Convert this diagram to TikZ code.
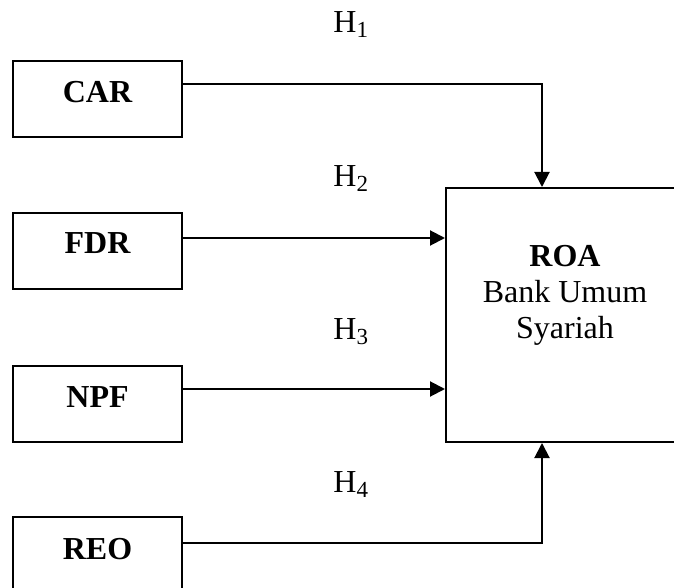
\documentclass[tikz,border=0pt]{standalone}
\usepackage{fontspec}
\setmainfont{Liberation Serif}
\usetikzlibrary{arrows.meta}
\newcommand{\hsub}[1]{\raisebox{-2.5pt}{\fontsize{11.5}{12}\selectfont #1}}
\begin{document}
\begin{tikzpicture}[x=0.5pt,y=-0.5pt,
  box/.style={draw,line width=1pt,minimum width=84.5pt,minimum height=38pt,inner sep=0pt},
  bigbox/.style={draw,line width=1pt,minimum width=116pt,minimum height=127pt,inner sep=0pt},
  lbl/.style={font=\fontsize{16}{18}\selectfont\bfseries,anchor=base,inner sep=0pt},
  txt/.style={font=\fontsize{16}{18}\selectfont,anchor=base,inner sep=0pt},
  hyp/.style={font=\fontsize{16}{18}\selectfont,anchor=base west,inner sep=0pt},
  conn/.style={line width=1pt,-{Triangle[length=7.5pt,width=7.5pt]}}]
\useasboundingbox (0,0) rectangle (674,588);
\clip (0,0) rectangle (674,588);
% boxes
\node[box] (car) at (97.5,99) {};
\node[box] (fdr) at (97.5,251) {};
\node[box] (npf) at (97.5,404) {};
\node[box] (reo) at (97.5,555) {};
\node[bigbox] (roa) at (562,315) {};
% box labels
\node[lbl] (carl) at (97.5,103) {CAR};
\node[lbl] (fdrl) at (97.5,254) {FDR};
\node[lbl] (npfl) at (97.5,407) {NPF};
\node[lbl] (reol) at (97.5,559) {REO};
\node[lbl] (roa1) at (565,266) {ROA};
\node[txt] (roa2) at (565,302) {Bank Umum};
\node[txt] (roa3) at (565,338) {Syariah};
% hypotheses
\node[hyp] (h1) at (333,33) {H\hsub{1}};
\node[hyp] (h2) at (333,187) {H\hsub{2}};
\node[hyp] (h3) at (333,339) {H\hsub{3}};
\node[hyp] (h4) at (333,492) {H\hsub{4}};
% connectors
\draw[conn] ([yshift=7.5pt]car.east) -| ([xshift=-10pt]roa.north);
\draw[conn] ([yshift=6.5pt]fdr.east) -- ([yshift=6.5pt]fdr.east -| roa.west);
\draw[conn] ([yshift=7.5pt]npf.east) -- ([yshift=7.5pt]npf.east -| roa.west);
\draw[conn] ([yshift=6pt]reo.east) -| ([xshift=-10pt]roa.south);
\end{tikzpicture}
\end{document}
